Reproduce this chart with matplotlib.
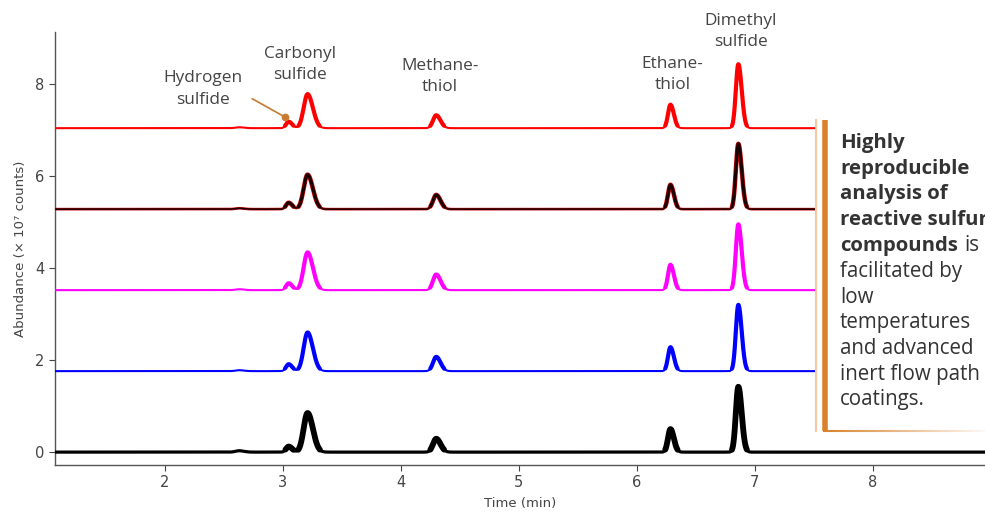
import numpy as np
import matplotlib
matplotlib.use("Agg")
import matplotlib.pyplot as plt
from matplotlib.collections import LineCollection
from matplotlib.textpath import TextPath
from matplotlib.font_manager import FontProperties

# ---------------- data ----------------
peak_names = ["minor", "Hydrogen sulfide", "Carbonyl sulfide", "Methanethiol", "Ethanethiol", "Dimethyl sulfide"]
retention_min = [2.63, 3.05, 3.21, 4.30, 6.285, 6.86]
peak_sigma = [0.030, 0.022, 0.033, 0.027, 0.021, 0.021]

trace_offsets = [0.0, 1.76, 3.52, 5.28, 7.04]
h_black = [0.03, 0.12, 0.85, 0.29, 0.50, 1.42]
h_blue = [0.02, 0.15, 0.84, 0.31, 0.52, 1.44]
h_magenta = [0.02, 0.15, 0.82, 0.34, 0.55, 1.43]
h_dark = [0.02, 0.14, 0.75, 0.31, 0.53, 1.42]
h_red = [0.02, 0.14, 0.74, 0.28, 0.51, 1.39]

x_ticks = [2, 3, 4, 5, 6, 7, 8]
y_ticks = [0, 2, 4, 6, 8]

labels = ["Hydrogen\nsulfide", "Carbonyl\nsulfide", "Methane-\nthiol", "Ethane-\nthiol", "Dimethyl\nsulfide"]
label_x = [2.32, 3.15, 4.33, 6.30, 6.88]
label_y = [7.89, 8.43, 8.16, 8.21, 9.14]

note_lines = [("Highly", "bold"), ("reproducible", "bold"), ("analysis of", "bold"),
              ("reactive sulfur", "bold"), ("compounds", "bold"), ("facilitated by", "normal"),
              ("low", "normal"), ("temperatures", "normal"), ("and advanced", "normal"),
              ("inert flow path", "normal"), ("coatings.", "normal")]

# ---------------- figure ----------------
W, H = 985, 514
DPI = 100
fig = plt.figure(figsize=(W / DPI, H / DPI), dpi=DPI)
ax = fig.add_axes([55 / W, (H - 465) / H, (985 - 55) / W, (465 - 32) / H])
ax.set_xlim(1.07, 8.95)
ax.set_ylim(-0.28, 9.13)


def fit_size(text, family, weight, target_px):
    fp = FontProperties(family=family, weight=weight, size=10)
    w = TextPath((0, 0), text, prop=fp).get_extents().width
    w_px = w * DPI / 72.0
    return 10.0 * target_px / w_px


t = np.linspace(1.07, 8.95, 4000)


def chrom(heights):
    s = np.zeros_like(t)
    for rt, sg, h in zip(retention_min, peak_sigma, heights):
        sig = np.where(t < rt, sg, sg * 1.35)
        s += h * np.exp(-0.5 * ((t - rt) / sig) ** 2)
    return s


def draw(heights, off, color, lw_base, lw_peak, under=None):
    s = chrom(heights)
    y = s + off
    ym = np.where(s > 0.05, y, np.nan)
    if under is not None:
        ax.plot(t, y, color=under, lw=lw_base + 0.8, solid_capstyle="round", zorder=2)
        ax.plot(t, ym, color=under, lw=lw_peak + 1.0, solid_capstyle="round", zorder=2)
    ax.plot(t, y, color=color, lw=lw_base, solid_capstyle="round", zorder=3)
    ax.plot(t, ym, color=color, lw=lw_peak, solid_capstyle="round", zorder=3)


draw(h_black, trace_offsets[0], "black", 2.3, 4.2)
draw(h_blue, trace_offsets[1], "#0000ff", 1.5, 3.0)
draw(h_magenta, trace_offsets[2], "#ff00ff", 1.5, 3.0)
draw(h_dark, trace_offsets[3], "#1a0000", 1.1, 2.2, under="#c80000")
draw(h_red, trace_offsets[4], "#ff0000", 1.5, 3.0)

# axes styling
for sp in ["top", "right"]:
    ax.spines[sp].set_visible(False)
for sp in ["left", "bottom"]:
    ax.spines[sp].set_color("#555555")
    ax.spines[sp].set_linewidth(1.0)
ax.set_xticks(x_ticks)
ax.set_yticks(y_ticks)
ax.tick_params(colors="#444444", labelsize=10.5, length=4, width=0.8)
for lab in ax.get_xticklabels() + ax.get_yticklabels():
    lab.set_family(["Liberation Sans Narrow", "DejaVu Sans"])
ax.set_xlabel("Time (min)", fontsize=9.5, color="#444444", labelpad=5,
              family=["Liberation Sans Narrow", "DejaVu Sans"])
ax.set_ylabel("Abundance (× 10⁷ counts)", fontsize=9.5, color="#444444", labelpad=6)

# peak labels
lab_size = fit_size("Hydrogen", "Open Sans", "normal", 76)
for lx, ly, lab in zip(label_x, label_y, labels):
    ax.text(lx, ly, lab, ha="center", va="center", fontsize=lab_size, color="#444444",
            linespacing=1.45, family="Open Sans", clip_on=False, zorder=5)

# H2S pointer
ax.annotate("", xy=(3.02, 7.28), xytext=(2.72, 7.71),
            arrowprops=dict(arrowstyle="-", color="#c87a30", lw=1.2), zorder=5)
ax.plot([3.02], [7.28], "o", color="#c87a30", ms=4.5, zorder=6)

# ---------------- right-hand note ----------------
tf = fig.transFigure


def fx(px):
    return px / W


def fy(py):
    return (H - py) / H


box_left, box_top, box_bot = 816, 120, 431
fig.patches.append(plt.Rectangle((fx(box_left), fy(box_bot)), fx(W - box_left), fy(box_top) - fy(box_bot),
                                 transform=tf, facecolor="white", edgecolor="none", zorder=10))
fig.add_artist(plt.Line2D([fx(box_left), fx(box_left)], [fy(box_top), fy(box_bot)],
                          transform=tf, color="#f2c9a2", lw=1.5, zorder=11))
fig.add_artist(plt.Line2D([fx(824.5), fx(824.5)], [fy(box_top), fy(box_bot)],
                          transform=tf, color="#d9822b", lw=4.0, solid_capstyle="butt", zorder=11))
xs = np.linspace(fx(823), fx(W), 60)
segs = [[(xs[i], fy(box_bot)), (xs[i + 1], fy(box_bot))] for i in range(len(xs) - 1)]
alphas = np.linspace(1.0, 0.05, len(segs))
cols = [(0.85, 0.51, 0.17, a) for a in alphas]
fig.add_artist(LineCollection(segs, colors=cols, linewidths=1.5, transform=tf, zorder=11))

reg_size = fit_size("temperatures", "Open Sans", "normal", 130)
bold_size = fit_size("reproducible", "Open Sans", "bold", 127)
y0, dy = 143, 25.7
comp = None
for i, (txt, wt) in enumerate(note_lines):
    size = bold_size if wt == "bold" else reg_size
    tx = fig.text(fx(840), fy(y0 + i * dy), txt, fontsize=size, fontweight=wt, color="#333333",
                  family="Open Sans", ha="left", va="center", zorder=12)
    if txt == "compounds":
        comp = tx
fig.canvas.draw()
bb = comp.get_window_extent()
fig.text((bb.x1 + 6) / W, comp.get_position()[1], "is", fontsize=reg_size, color="#333333",
         family="Open Sans", ha="left", va="center", zorder=12)

fig.savefig("out.png", dpi=DPI)
